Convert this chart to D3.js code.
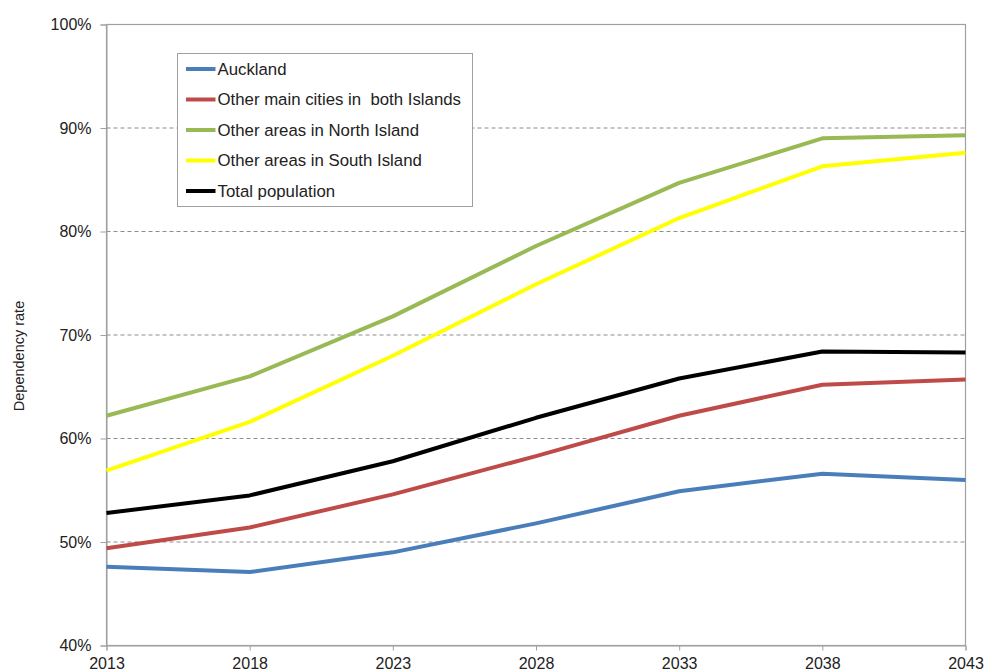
<!DOCTYPE html>
<html>
<head>
<meta charset="utf-8">
<script src="https://cdn.jsdelivr.net/npm/d3@7"></script>
<style>
  body { margin: 0; background: #fff; }
  text { font-family: "Liberation Sans", Arial, sans-serif; fill: #222; }
</style>
</head>
<body>
<div id="chart"></div>
<script>
//Data
var years = [2013, 2018, 2023, 2028, 2033, 2038, 2043];
var yTicks = [40, 50, 60, 70, 80, 90, 100];

var auckland   = [47.6, 47.1, 49.0, 51.8, 54.9, 56.6, 56.0];
var mainCities = [49.4, 51.4, 54.6, 58.3, 62.2, 65.2, 65.7];
var northIsl   = [62.2, 66.0, 71.8, 78.6, 84.7, 89.0, 89.3];
var southIsl   = [56.9, 61.6, 68.0, 74.9, 81.3, 86.3, 87.6];
var totalPop   = [52.8, 54.5, 57.8, 62.0, 65.8, 68.4, 68.3];

var seriesNames = ["Auckland", "Other main cities in\u00a0 both Islands", "Other areas in North Island", "Other areas in South Island", "Total population"];
var seriesColors = ["#4a7ebb", "#be4b48", "#98b954", "#ffff00", "#000000"];
var seriesValues = [auckland, mainCities, northIsl, southIsl, totalPop];

//Canvas
var W = 988, H = 671;
var margin = {top: 24.5, right: 22.5, bottom: 25.5, left: 106.5};
var w = W - margin.left - margin.right,
    h = H - margin.top - margin.bottom;

var svg = d3.select("#chart").append("svg")
  .attr("width", W).attr("height", H);

var g = svg.append("g")
  .attr("transform", "translate(" + margin.left + "," + margin.top + ")");

//Scales
var x = d3.scaleLinear().domain([2013, 2043]).range([0, w]);
var y = d3.scaleLinear().domain([40, 100]).range([h, 0]);

//Dashed gridlines (inner ones only)
g.append("g").selectAll("line")
  .data(yTicks.filter(function(d) { return d > 40 && d < 100; }))
  .enter().append("line")
    .attr("x1", 0).attr("x2", w)
    .attr("y1", function(d) { return y(d); })
    .attr("y2", function(d) { return y(d); })
    .attr("stroke", "#8c8c8c")
    .attr("stroke-width", 1)
    .attr("stroke-dasharray", "4,3");

//Plot frame
g.append("rect")
  .attr("x", 0).attr("y", 0).attr("width", w).attr("height", h)
  .attr("fill", "none").attr("stroke", "#a0a0a0").attr("stroke-width", 1.2);

//Y axis
var yAxis = g.append("g")
  .call(d3.axisLeft(y).tickValues(yTicks).tickSize(6).tickPadding(9)
    .tickFormat(function(d) { return d + "%"; }));
yAxis.select(".domain").attr("stroke", "#a0a0a0");
yAxis.selectAll(".tick line").attr("stroke", "#a0a0a0");
yAxis.selectAll("text").attr("font-size", "16px").attr("fill", "#222")
  .style("font-family", "'Liberation Sans', Arial, sans-serif");

//X axis
var xAxis = g.append("g")
  .attr("transform", "translate(0," + h + ")")
  .call(d3.axisBottom(x).tickValues(years).tickSize(5).tickPadding(7)
    .tickFormat(d3.format("d")));
xAxis.select(".domain").attr("stroke", "#a0a0a0");
xAxis.selectAll(".tick line").attr("stroke", "#a0a0a0");
xAxis.selectAll("text").attr("font-size", "16px").attr("fill", "#222")
  .style("font-family", "'Liberation Sans', Arial, sans-serif");

//Axis title
svg.append("text")
  .attr("transform", "translate(24," + 356 + ") rotate(-90)")
  .attr("text-anchor", "middle")
  .attr("font-size", "14.5px")
  .attr("fill", "#111")
  .text("Dependency rate");

//Lines
var line = d3.line()
  .x(function(d, i) { return x(years[i]); })
  .y(function(d) { return y(d); });

g.append("g").selectAll("path")
  .data(seriesValues)
  .enter().append("path")
    .attr("d", line)
    .attr("fill", "none")
    .attr("stroke", function(d, i) { return seriesColors[i]; })
    .attr("stroke-width", 4)
    .attr("stroke-linejoin", "round");

//Legend
var legend = svg.append("g").attr("transform", "translate(177.5,53.5)");
legend.append("rect")
  .attr("width", 295).attr("height", 153)
  .attr("fill", "#fff").attr("stroke", "#a0a0a0").attr("stroke-width", 1);

var item = legend.selectAll(".item")
  .data(seriesNames)
  .enter().append("g")
    .attr("class", "item")
    .attr("transform", function(d, i) { return "translate(0," + (15.5 + i * 30.5) + ")"; });
item.append("line")
  .attr("x1", 8.5).attr("x2", 38)
  .attr("stroke", function(d, i) { return seriesColors[i]; })
  .attr("stroke-width", 4);
item.append("text")
  .attr("x", 40).attr("dy", "0.35em")
  .attr("font-size", "16.8px")
  .text(function(d) { return d; });
</script>
</body>
</html>
